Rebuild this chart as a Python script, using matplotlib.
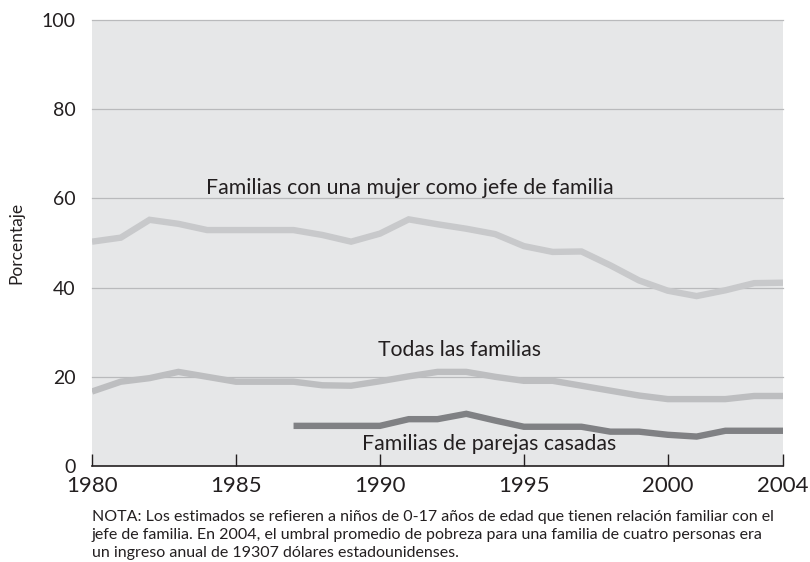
import matplotlib
matplotlib.use("Agg")
import matplotlib.pyplot as plt

# Pobreza infantil por tipo de familia, 1980-2004 (porcentaje)
years = list(range(1980, 2005))
jefa_mujer = [50.3, 51.2, 55.2, 54.3, 52.9, 52.9, 52.9, 52.9, 51.8, 50.3,
              52.1, 55.3, 54.2, 53.2, 52.0, 49.3, 48.0, 48.1, 45.0, 41.6,
              39.3, 38.1, 39.4, 41.0, 41.1]
todas = [16.7, 18.9, 19.7, 21.1, 20.0, 18.9, 18.9, 18.9, 18.1, 18.0,
         19.0, 20.1, 21.1, 21.1, 20.0, 19.1, 19.1, 18.0, 16.9, 15.8,
         15.0, 15.0, 15.0, 15.7, 15.7]
years_casadas = list(range(1987, 2005))
casadas = [9.0, 9.0, 9.0, 9.0, 10.5, 10.5, 11.7, 10.2, 8.8, 8.8,
           8.8, 7.7, 7.7, 7.0, 6.6, 7.9, 7.9, 7.9]

xticks = [1980, 1985, 1990, 1995, 2000, 2004]
yticks = [0, 20, 40, 60, 80, 100]

nota = ("NOTA: Los estimados se refieren a niños de 0-17 años de edad que tienen relación familiar con el\n"
        "jefe de familia. En 2004, el umbral promedio de pobreza para una familia de cuatro personas era\n"
        "un ingreso anual de 19307 dólares estadounidenses.")

plt.rcParams['font.family'] = ['Lato', 'DejaVu Sans']

fig = plt.figure(figsize=(8.1, 5.62), dpi=100)
ax = fig.add_axes([92 / 810, 1 - 466 / 562, 691 / 810, 446 / 562])
ax.set_facecolor("#e6e7e8")

for y in yticks[1:]:
    ax.axhline(y, color="#b9babc", lw=0.9, zorder=1, clip_on=False)

ax.plot(years, jefa_mujer, color="#c8c9cb", lw=4.6, solid_joinstyle="miter",
        solid_capstyle="butt", zorder=3)
ax.plot(years, todas, color="#bdbec0", lw=4.6, solid_joinstyle="miter",
        solid_capstyle="butt", zorder=3)
ax.plot(years_casadas, casadas, color="#808184", lw=4.6, solid_joinstyle="miter",
        solid_capstyle="butt", zorder=4)

# etiquetas de cada serie
ax.text(1991.05, 62.3, "Familias con una mujer como jefe de familia", ha="center",
        va="center", fontsize=15.3, color="#231f20")
ax.text(1992.75, 25.9, "Todas las familias", ha="center", va="center",
        fontsize=15.3, color="#231f20")
ax.text(1993.8, 5.0, "Familias de parejas casadas", ha="center", va="center",
        fontsize=15.3, color="#231f20")

ax.set_xlim(1980, 2004)
ax.set_ylim(0, 100)
ax.set_xticks(xticks)
ax.set_xticklabels([str(t) for t in xticks], fontsize=16, color="#231f20")
ax.set_yticks(yticks)
ax.set_yticklabels([str(t) for t in yticks], fontsize=14, color="#231f20")
ax.tick_params(axis="x", direction="in", length=9, width=1, color="#231f20", pad=7)
ax.tick_params(axis="y", length=0, pad=12)

for side in ["top", "right", "left"]:
    ax.spines[side].set_visible(False)
ax.spines["bottom"].set_color("#231f20")
ax.spines["bottom"].set_linewidth(1.2)

ax.set_ylabel("Porcentaje", fontsize=12.5, color="#231f20", labelpad=12)

fig.text(92 / 810, 1 - 510 / 562, nota, ha="left", va="top", fontsize=11.5,
         color="#231f20", linespacing=1.38)

fig.savefig("out.png", dpi=100)
